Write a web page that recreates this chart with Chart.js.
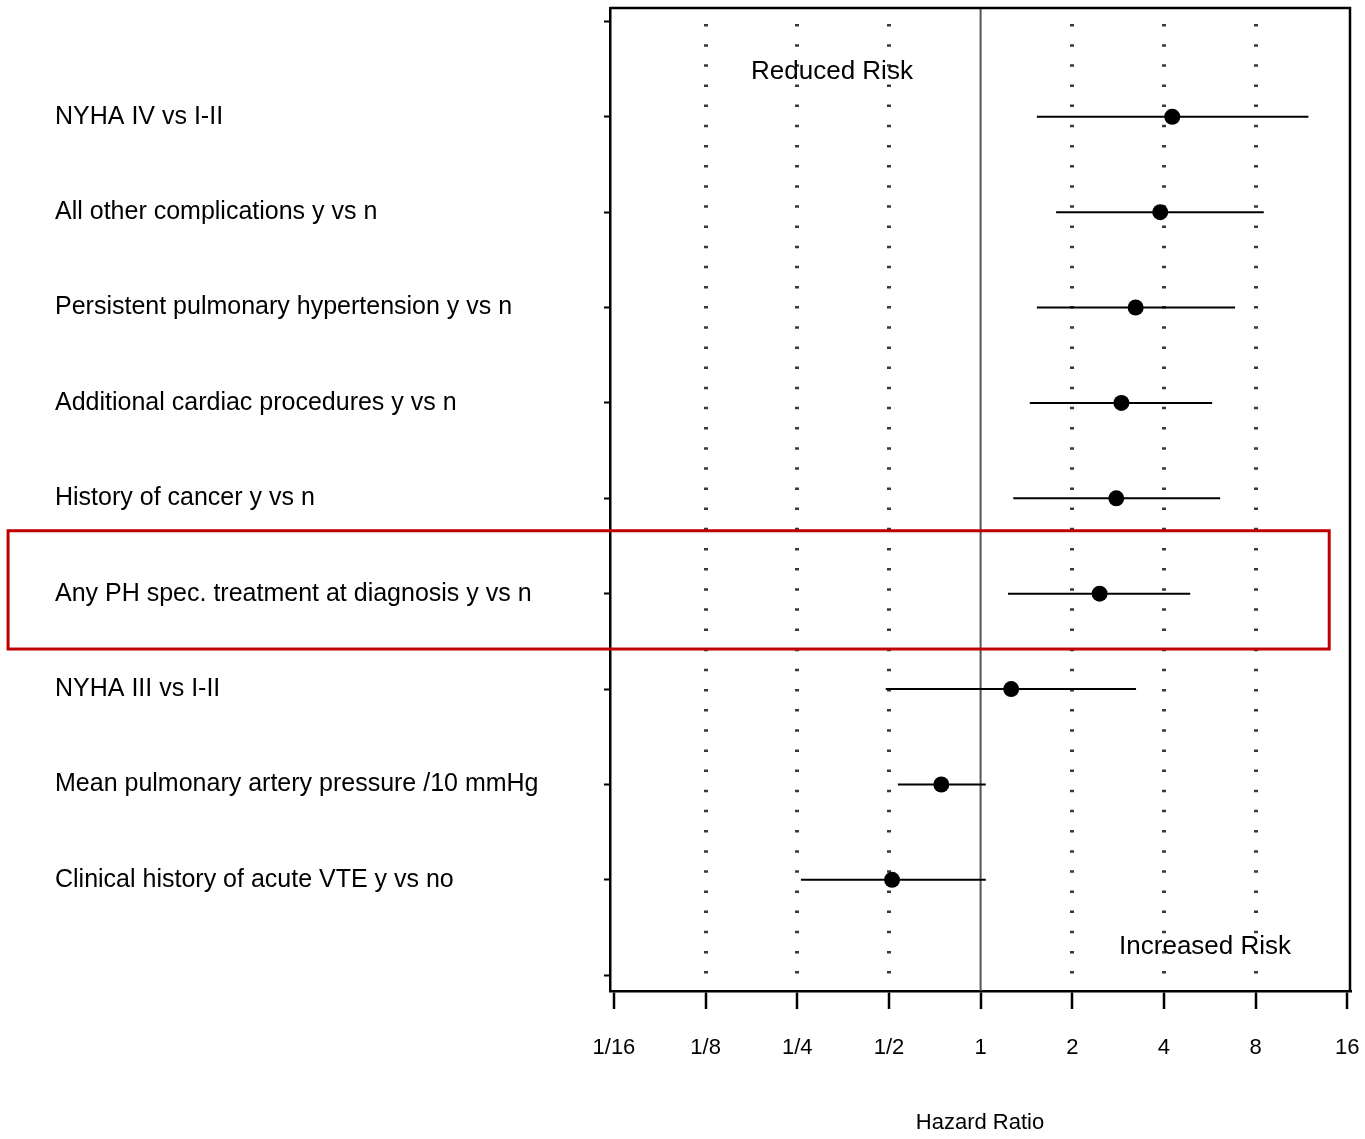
<!DOCTYPE html>
<html>
<head>
<meta charset="utf-8">
<script src="https://cdn.jsdelivr.net/npm/chart.js@4.4.1/dist/chart.umd.min.js"></script>
<style>
  html, body { margin: 0; padding: 0; background: #fff; }
</style>
</head>
<body>
<canvas id="forest" width="1365" height="1139"></canvas>
<script>
// rows, top to bottom
const labels = [
  'NYHA IV vs I-II',
  'All other complications y vs n',
  'Persistent pulmonary hypertension y vs n',
  'Additional cardiac procedures y vs n',
  'History of cancer y vs n',
  'Any PH spec. treatment at diagnosis y vs n',
  'NYHA III vs I-II',
  'Mean pulmonary artery pressure /10 mmHg',
  'Clinical history of acute VTE y vs no'
];
const rowPos = [9, 8, 7, 6, 5, 4, 3, 2, 1];
const hr    = [4.26, 3.89, 3.23, 2.90, 2.79, 2.46, 1.26, 0.743, 0.512];
const lower = [1.53, 1.77, 1.53, 1.45, 1.28, 1.23, 0.488, 0.535, 0.257];
const upper = [11.93, 8.51, 6.85, 5.76, 6.12, 4.88, 3.24, 1.04, 1.04];

const xTicks = [1/16, 1/8, 1/4, 1/2, 1, 2, 4, 8, 16];
const xTickLabels = ['1/16', '1/8', '1/4', '1/2', '1', '2', '4', '8', '16'];
const dottedAt = [1/8, 1/4, 1/2, 2, 4, 8];
const yTicks = [0, 1, 2, 3, 4, 5, 6, 7, 8, 9, 10];

const X_MIN = Math.pow(2, -4.043), X_MAX = Math.pow(2, 4.03);
const Y_MIN = -0.165, Y_MAX = 10.14;

Chart.defaults.font.family = '"Liberation Sans", Arial, sans-serif';
Chart.defaults.color = '#000';

// CI whiskers, one small line per row
const whiskers = labels.map((name, i) => ({
  type: 'line',
  label: name,
  data: [{x: lower[i], y: rowPos[i]}, {x: upper[i], y: rowPos[i]}],
  borderColor: '#000',
  borderWidth: 2,
  pointRadius: 0,
  order: 2
}));

const boxAndNotes = {
  id: 'boxAndNotes',
  afterDatasetsDraw(chart) {
    const {ctx, scales: {x, y}} = chart;
    ctx.save();
    ctx.font = '26px "Liberation Sans", Arial, sans-serif';
    ctx.fillStyle = '#000';
    ctx.textAlign = 'center';
    ctx.textBaseline = 'middle';
    ctx.fillText('Reduced Risk', x.getPixelForValue(0.325), y.getPixelForValue(9.47));
    ctx.fillText('Increased Risk', x.getPixelForValue(5.46), y.getPixelForValue(0.3));
    ctx.restore();
  },
  afterDraw(chart) {
    const {ctx, chartArea: a, scales: {x, y}} = chart;
    ctx.save();
    // top + right side of the frame
    ctx.strokeStyle = '#000';
    ctx.lineWidth = 2.5;
    ctx.beginPath();
    ctx.moveTo(a.left, a.top);
    ctx.lineTo(a.right, a.top);
    ctx.lineTo(a.right, a.bottom);
    ctx.stroke();
    // red highlight around "Any PH spec. treatment"
    const l = x.getPixelForValue(0.00064), r = x.getPixelForValue(13.96);
    const t = y.getPixelForValue(4.66), b = y.getPixelForValue(3.42);
    ctx.strokeStyle = '#c00000';
    ctx.lineWidth = 3;
    ctx.strokeRect(l, t, r - l, b - t);
    ctx.restore();
  }
};

new Chart(document.getElementById('forest'), {
  type: 'scatter',
  data: {
    datasets: [
      ...whiskers,
      {
        type: 'line',
        label: 'HR = 1',
        data: [{x: 1, y: Y_MIN}, {x: 1, y: Y_MAX}],
        borderColor: '#555',
        borderWidth: 2,
        pointRadius: 0,
        order: 3
      },
      {
        type: 'scatter',
        label: 'Hazard ratio',
        data: hr.map((v, i) => ({x: v, y: rowPos[i]})),
        backgroundColor: '#000',
        borderWidth: 0,
        pointRadius: 8,
        order: 1
      }
    ]
  },
  options: {
    responsive: false,
    animation: false,
    devicePixelRatio: 1,
    layout: {padding: {left: 55, right: 15, top: 6, bottom: 0}},
    plugins: {legend: {display: false}, tooltip: {enabled: false}},
    scales: {
      x: {
        type: 'logarithmic',
        position: 'bottom',
        min: X_MIN,
        max: X_MAX,
        bounds: 'data',
        afterBuildTicks: s => { s.ticks = xTicks.map(v => ({value: v})); },
        afterFit: s => { s.height = 148; s.paddingLeft = 0; s.paddingRight = 0; },
        ticks: {
          autoSkip: false,
          maxRotation: 0,
          minRotation: 0,
          padding: 26,
          color: '#000',
          font: {size: 22},
          callback: (v, i) => xTickLabels[i]
        },
        grid: {
          color: c => (c.tick && dottedAt.includes(c.tick.value)) ? '#3a3a3a' : 'rgba(0,0,0,0)',
          lineWidth: 4,
          drawTicks: true,
          tickLength: 18,
          tickColor: '#000',
          tickWidth: 2.5
        },
        border: {display: true, color: '#000', width: 2.5, dash: [2.5, 17.65], dashOffset: 4.15},
        title: {display: true, text: 'Hazard Ratio', color: '#000', font: {size: 22}, padding: {top: 0, bottom: 3}}
      },
      y: {
        type: 'linear',
        min: Y_MIN,
        max: Y_MAX,
        afterBuildTicks: s => { s.ticks = yTicks.map(v => ({value: v})); },
        afterFit: s => { s.width = 555; s.paddingTop = 0; s.paddingBottom = 0; },
        ticks: {
          autoSkip: false,
          crossAlign: 'far',
          color: '#000',
          font: {size: 25},
          callback: v => {
            const i = rowPos.indexOf(v);
            return i >= 0 ? labels[i] : '';
          }
        },
        grid: {
          drawOnChartArea: false,
          drawTicks: true,
          tickLength: 6,
          tickColor: '#000',
          tickWidth: 2
        },
        border: {display: true, color: '#000', width: 2.5}
      }
    }
  },
  plugins: [boxAndNotes]
});
</script>
</body>
</html>
